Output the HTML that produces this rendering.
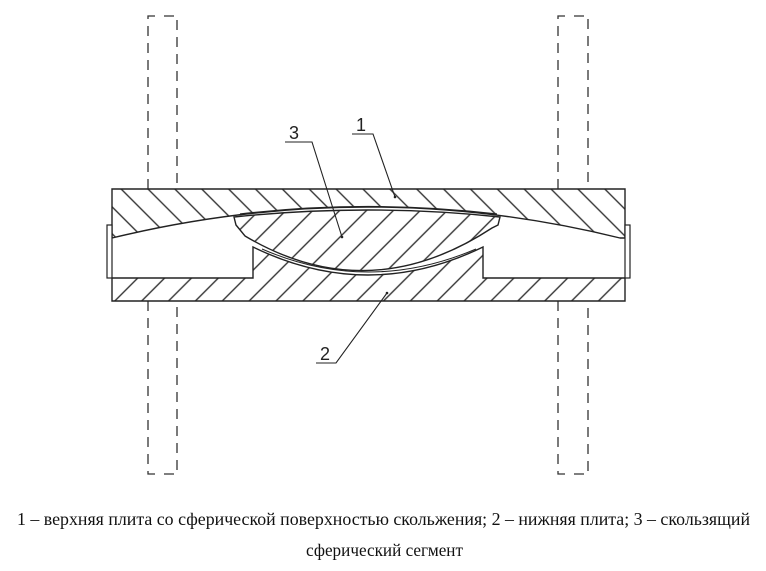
<!DOCTYPE html>
<html><head><meta charset="utf-8"><style>body{margin:0;background:#fff}svg{display:block}</style></head><body>
<svg width="766" height="571" viewBox="0 0 766 571" xmlns="http://www.w3.org/2000/svg">
<defs>
<pattern id="hb" patternUnits="userSpaceOnUse" width="19" height="19" patternTransform="rotate(-45)"><line x1="9" y1="0" x2="9" y2="19" stroke="#333" stroke-width="1.4"/></pattern>
<pattern id="hf" patternUnits="userSpaceOnUse" width="19" height="19" patternTransform="rotate(45)"><line x1="9" y1="0" x2="9" y2="19" stroke="#333" stroke-width="1.4"/></pattern>
</defs>
<g fill="none" stroke="#333" stroke-width="1.3" stroke-dasharray="10,7">
<path d="M148,189 V16 H162 M164,16 H177 V189"/>
<path d="M148,301 V474 H162 M164,474 H177 V301"/>
<path d="M558,189 V16 H572 M574,16 H588 V189"/>
<path d="M558,301 V474 H572 M574,474 H588 V301"/>
</g>
<path d="M112,189 H625 V238 H620 Q368,176 112,238 Z" fill="url(#hb)" stroke="#222" stroke-width="1.4"/>
<path d="M112,278 H253 V247 Q368,303 483,247 V278 H625 V301 H112 Z" fill="url(#hf)" stroke="#222" stroke-width="1.4"/>
<path d="M234,217 Q368,203 500,217 L498,225 L492,228 Q368,309 245,236 L236,225 Z" fill="url(#hf)" stroke="#222" stroke-width="1.4"/>
<path d="M240,214 Q368,199 497,214" fill="none" stroke="#222" stroke-width="1.2"/>
<path d="M262,249 Q368,295 476,249" fill="none" stroke="#222" stroke-width="1"/>
<rect x="107" y="225" width="5" height="53" fill="#fff" stroke="#222" stroke-width="1.2"/>
<rect x="625" y="225" width="5" height="53" fill="#fff" stroke="#222" stroke-width="1.2"/>
<g stroke="#222" stroke-width="1.1" fill="none">
<path d="M352,134 H373 L395,197"/>
<path d="M285,142 H312 L342,237"/>
<path d="M316,363 H336 L387,293"/>
</g>
<circle cx="395" cy="197" r="1.3" fill="#222"/>
<circle cx="342" cy="237" r="1.3" fill="#222"/>
<circle cx="387" cy="293" r="1.3" fill="#222"/>
<g font-family="Liberation Sans, sans-serif" font-size="18" fill="#222">
<text x="356" y="131">1</text>
<text x="289" y="139">3</text>
<text x="320" y="360">2</text>
</g>
<g font-family="Liberation Serif, serif" font-size="18" fill="#111">
<text x="17" y="525" textLength="733" lengthAdjust="spacingAndGlyphs">1 – верхняя плита со сферической поверхностью скольжения; 2 – нижняя плита; 3 – скользящий</text>
<text x="306" y="556" textLength="157" lengthAdjust="spacingAndGlyphs">сферический сегмент</text>
</g>
</svg>
</body></html>
